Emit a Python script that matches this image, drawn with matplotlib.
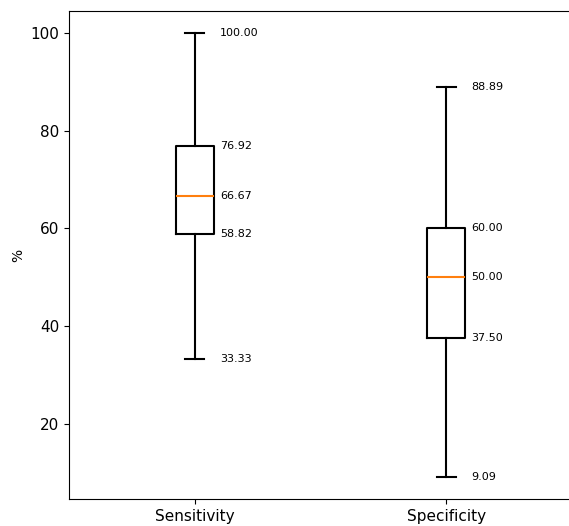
import matplotlib
matplotlib.use("Agg")
import matplotlib.pyplot as plt

# Statistiques des boîtes
labels = ["Sensitivity", "Specificity"]
whislo = [33.33, 9.09]
q1 = [58.82, 37.50]
med = [66.67, 50.00]
q3 = [76.92, 60.00]
whishi = [100.00, 88.89]

stats = [
    dict(label=lab, whislo=lo, q1=a, med=m, q3=b, whishi=hi, fliers=[])
    for lab, lo, a, m, b, hi in zip(labels, whislo, q1, med, q3, whishi)
]

fig = plt.figure(figsize=(5.69, 5.26), dpi=100)
ax = fig.add_axes([0.1213, 0.0513, 0.884, 0.928])

positions = [1, 2]
ax.bxp(stats, positions=positions, widths=0.15,
       boxprops=dict(linewidth=1.5, color="black"),
       whiskerprops=dict(linewidth=1.5, color="black"),
       capprops=dict(linewidth=1.5, color="black"),
       medianprops=dict(linewidth=1.5, color="C1"))

# Annotation des valeurs à droite de chaque boîte
for i, pos in enumerate(positions):
    for v in (whislo[i], q1[i], med[i], q3[i], whishi[i]):
        ax.text(pos + 0.1, v, f"{v:.2f}", va="center", ha="left", fontsize=8)

ax.set_xlim(0.5, 2.5)
ax.set_ylabel("%")
ax.tick_params(axis="both", labelsize=11)

fig.savefig("out.png", dpi=100)
